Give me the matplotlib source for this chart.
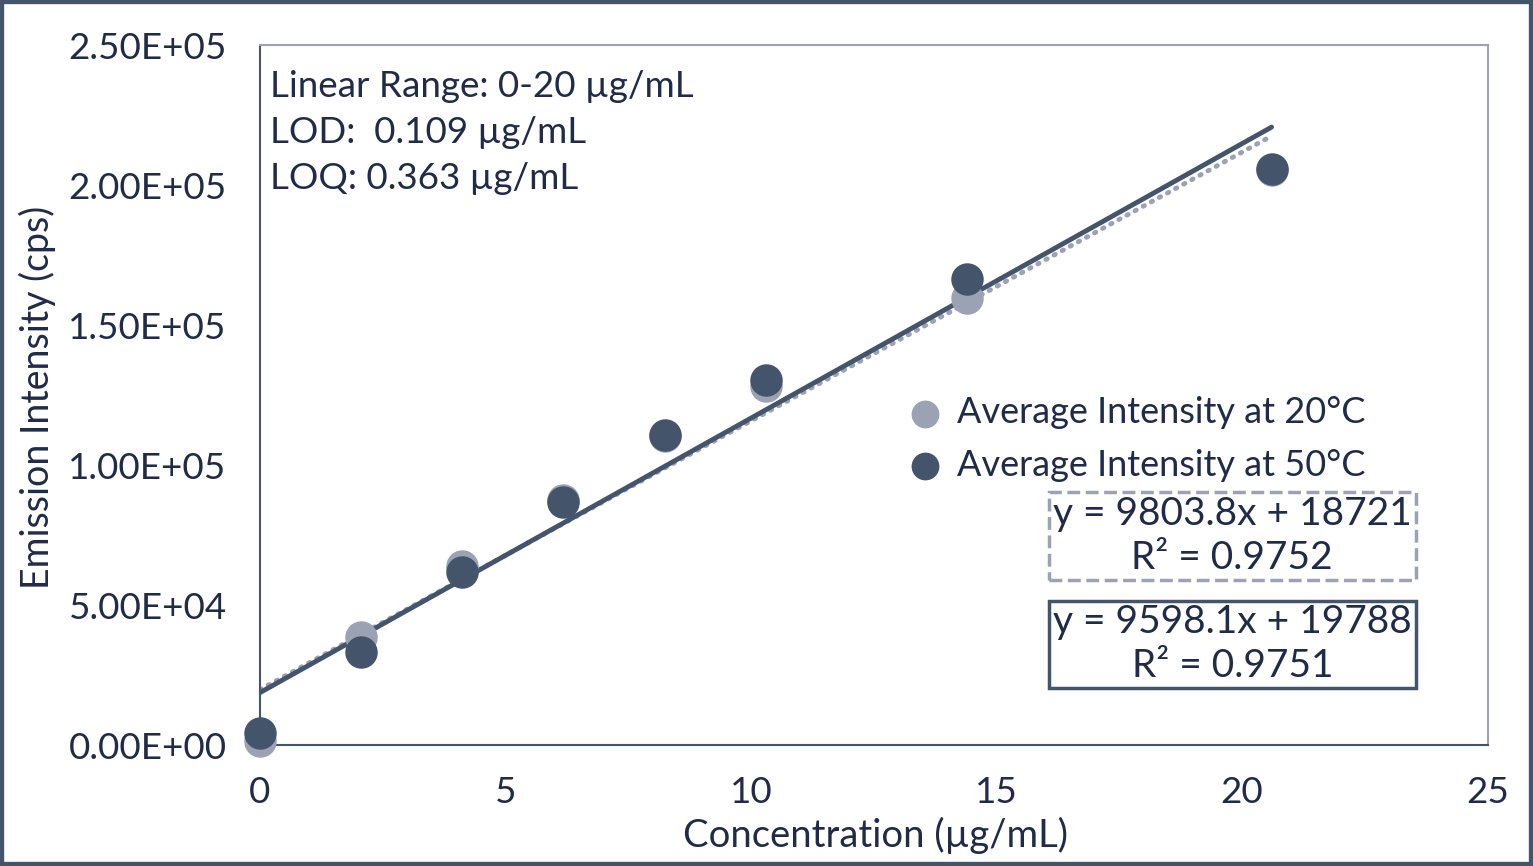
import numpy as np
import matplotlib.pyplot as plt
from matplotlib.patches import Rectangle

plt.rcParams['font.family'] = ['Lato', 'DejaVu Sans']

# Concentration (ug/mL) and mean emission intensity (cps)
conc = [0, 2.06, 4.12, 6.18, 8.24, 10.3, 14.4, 20.6]
int_20 = [1500, 38500, 63800, 87500, 110500, 128300, 159500, 205500]
int_50 = [4300, 33200, 61800, 86800, 110700, 130300, 166400, 205700]

# trendline coefficients (slope, intercept) as printed on the chart
fit_a = (9803.8, 18721)   # drawn solid
fit_b = (9598.1, 19788)   # drawn dotted

x_ticks = [0, 5, 10, 15, 20, 25]
y_ticks = [0, 50000, 100000, 150000, 200000, 250000]
y_labels = ['0.00E+00', '5.00E+04', '1.00E+05', '1.50E+05', '2.00E+05', '2.50E+05']

navy = '#44546A'
light = '#9AA2B4'
txt = '#1F2B48'

fig = plt.figure(figsize=(15.33, 8.66), dpi=100)
ax = fig.add_axes([0.1696, 0.1397, 0.8008, 0.8083])

xs = np.array([0, conc[-1]])
ax.plot(xs, fit_b[0] * xs + fit_b[1], color=light, lw=3.5, ls=(0, (0.3, 1.6)),
        dash_capstyle='round', zorder=2)
ax.plot(xs, fit_a[0] * xs + fit_a[1], color=navy, lw=3.5, solid_capstyle='round', zorder=3)

# points at x=0 hang over the axis, so no clipping
ax.scatter(conc, int_20, s=500, color=light, label='Average Intensity at 20°C', zorder=4,
           clip_on=False)
ax.scatter(conc, int_50, s=500, color=navy, label='Average Intensity at 50°C', zorder=5,
           clip_on=False)

ax.set_xlim(0, 25)
ax.set_ylim(0, 2.5e5)
ax.set_xticks(x_ticks)
ax.set_yticks(y_ticks)
ax.set_yticklabels(y_labels)
ax.tick_params(length=0, labelsize=26.5, labelcolor=txt)
ax.tick_params(axis='y', pad=24)
ax.tick_params(axis='x', pad=22)

for s in ['left', 'bottom']:
    ax.spines[s].set_color(navy)
    ax.spines[s].set_linewidth(1.5)
for s in ['top', 'right']:
    ax.spines[s].set_color(light)
    ax.spines[s].set_linewidth(1.5)

ax.set_xlabel('Concentration (µg/mL)', fontsize=27.5, color=txt)
ax.set_ylabel('Emission Intensity (cps)', fontsize=27, color=txt)
ax.xaxis.set_label_coords(0.501, -0.102)
ax.yaxis.set_label_coords(-0.166, 0.497)

ax.text(0.008, 0.965, 'Linear Range: 0-20 µg/mL\nLOD:  0.109 µg/mL\nLOQ: 0.363 µg/mL',
        transform=ax.transAxes, fontsize=26.5, color=txt, va='top', ha='left',
        linespacing=1.49)

ax.legend(loc='center left', bbox_to_anchor=(0.527, 0.437), frameon=False, fontsize=26,
          labelcolor=txt, handlelength=1.0, handletextpad=0.39, labelspacing=0.54,
          borderpad=0, borderaxespad=0, markerscale=0.85)

box = dict(boxstyle='square,pad=0.1', fc='white', lw=2.5)
ax.text(0.792, 0.2986, 'y = 9803.8x + 18721\nR² = 0.9752', transform=ax.transAxes,
        fontsize=28, color=txt, ha='center', va='center', linespacing=1.26,
        bbox=dict(box, ec=light, ls='--'))
ax.text(0.792, 0.144, 'y = 9598.1x + 19788\nR² = 0.9751', transform=ax.transAxes,
        fontsize=28, color=txt, ha='center', va='center', linespacing=1.26,
        bbox=dict(box, ec=navy))

fig.add_artist(Rectangle((0, 0), 1, 1, transform=fig.transFigure, fill=False,
                         ec=navy, lw=6))

fig.savefig('out.png', dpi=100)
